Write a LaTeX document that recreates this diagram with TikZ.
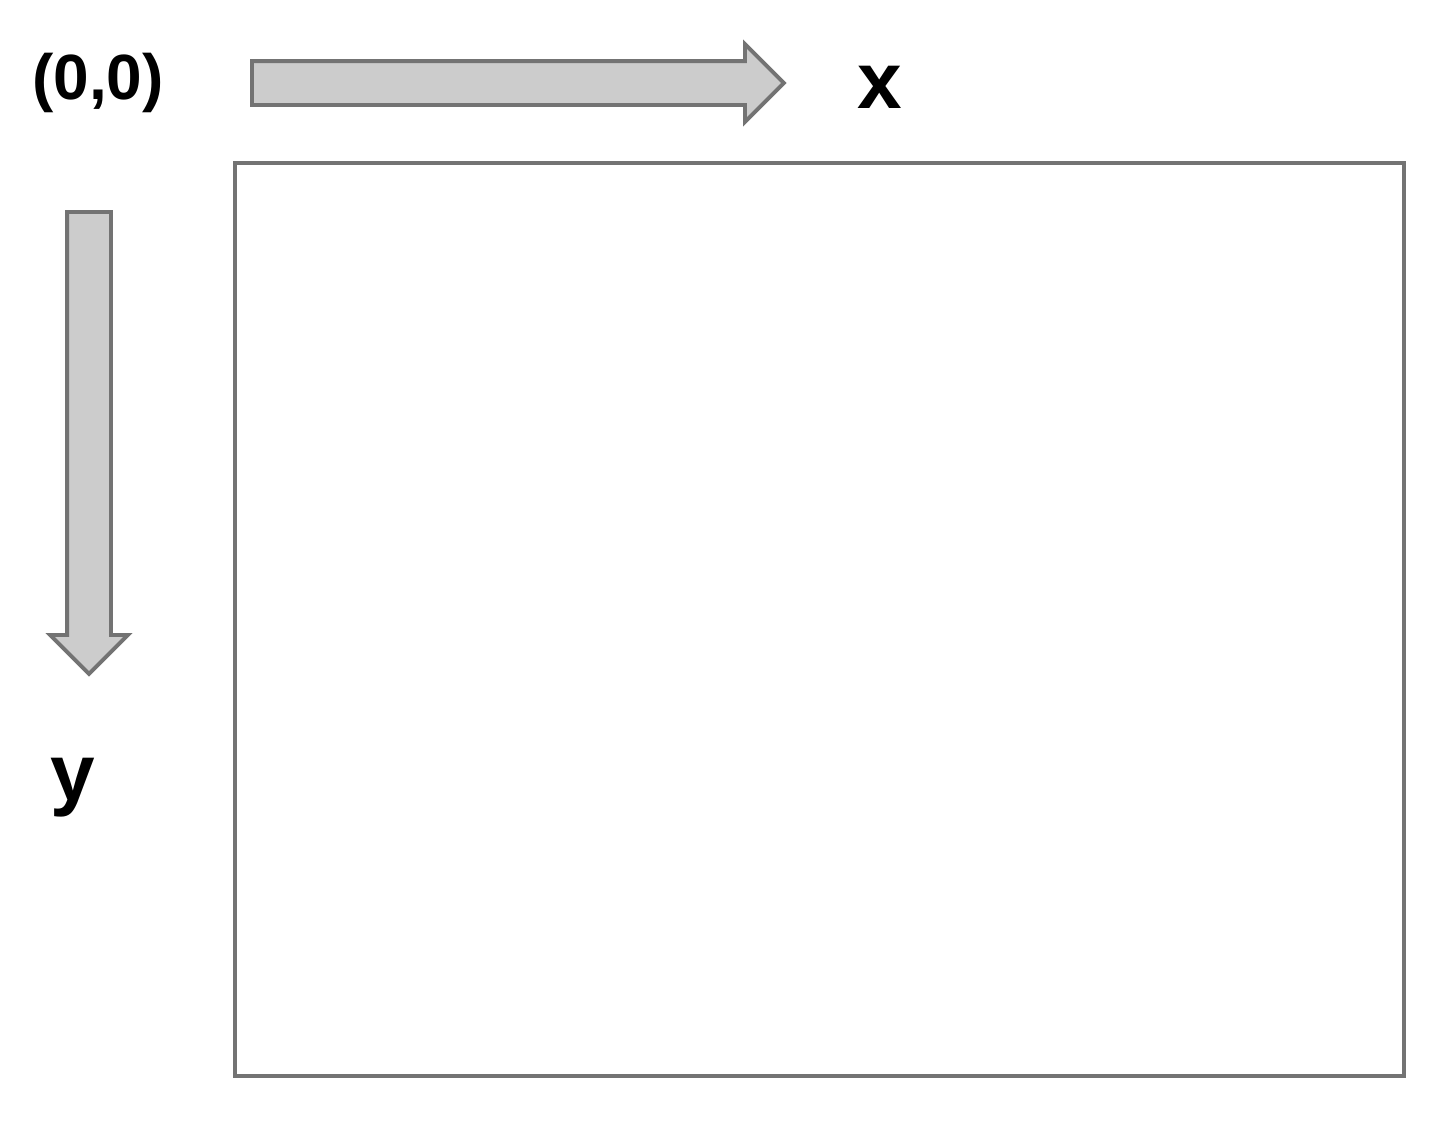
\documentclass[tikz,border=0pt]{standalone}
\usepackage{fontspec}
\setmainfont{Liberation Sans}
\usepackage{tikz}
\usetikzlibrary{shapes,arrows,positioning}

\begin{document}
\begin{tikzpicture}[
    axisarrow/.style={single arrow, draw=black!55, fill=black!20, line width=1.1pt, inner sep=0.2cm, minimum width=0.74cm, single arrow head extend=0.17cm},
    axislabel/.style={font=\bfseries\fontsize{22.8}{26}\selectfont, inner sep=0pt},
    frame/.style={draw=black!55, line width=1.1pt}
]
    \useasboundingbox (0,0) rectangle (14.4,11.39);

    % Origin and axes
    \node[font=\bfseries\fontsize{18.2}{22}\selectfont] (origin) at (0.98,10.56) {(0,0)};
    \node[axisarrow, minimum height=5.32cm, anchor=tail] (xarrow) at (2.50,10.56) {};
    \node[axisarrow, minimum height=4.62cm, shape border rotate=270, anchor=tail] (yarrow) at (0.89,9.29) {};
    \node[axislabel] (xlabel) at (8.80,10.52) {x};
    \node[axislabel] (ylabel) at (0.73,3.51) {y};

    % Image area
    \node[frame, minimum width=11.69cm, minimum height=9.13cm, anchor=south west, inner sep=0pt] (area) at (2.33,0.61) {};
\end{tikzpicture}
\end{document}
